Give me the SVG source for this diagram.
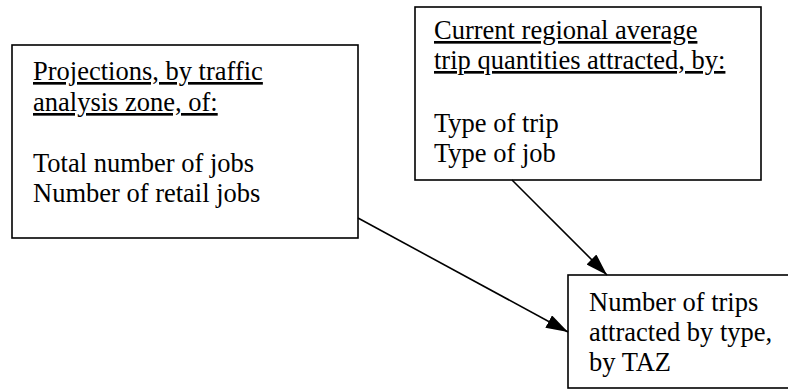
<svg xmlns="http://www.w3.org/2000/svg" width="788" height="391" viewBox="0 0 788 391">
<style>
.box{fill:#fff;stroke:#000;stroke-width:1.6}
.t{font-family:"Liberation Serif","Times New Roman",serif;font-size:26.5px;fill:#000}
.u{text-decoration:underline}
.c{stroke:#000;stroke-width:1.6;fill:none}
</style>
<defs>
<marker id="ah" viewBox="0 0 22 14" refX="22" refY="7" markerWidth="22" markerHeight="14" markerUnits="userSpaceOnUse" orient="auto">
<path d="M0,0 L22,7 L0,14 z" fill="#000"/>
</marker>
</defs>
<g id="node-projections">
<rect class="box" x="12" y="45" width="346" height="193"/>
<text class="t" x="33" y="80"><tspan class="u">Projections, by traffic</tspan></text>
<text class="t" x="33" y="111"><tspan class="u">analysis zone, of:</tspan></text>
<text class="t" x="33" y="172">Total number of jobs</text>
<text class="t" x="33" y="202">Number of retail jobs</text>
</g>
<g id="node-current">
<rect class="box" x="415" y="7" width="346" height="173"/>
<text class="t" x="434" y="39"><tspan class="u">Current regional average</tspan></text>
<text class="t" x="434" y="69"><tspan class="u">trip quantities attracted, by:</tspan></text>
<text class="t" x="434" y="132">Type of trip</text>
<text class="t" x="434" y="162">Type of job</text>
</g>
<g id="node-result">
<rect class="box" x="568" y="275" width="230" height="113"/>
<text class="t" x="589" y="311">Number of trips</text>
<text class="t" x="589" y="341">attracted by type,</text>
<text class="t" x="589" y="371">by TAZ</text>
</g>
<g id="connectors">
<line class="c" x1="512" y1="180" x2="607" y2="275" marker-end="url(#ah)"/>
<line class="c" x1="358" y1="218" x2="568" y2="332" marker-end="url(#ah)"/>
</g>
</svg>
